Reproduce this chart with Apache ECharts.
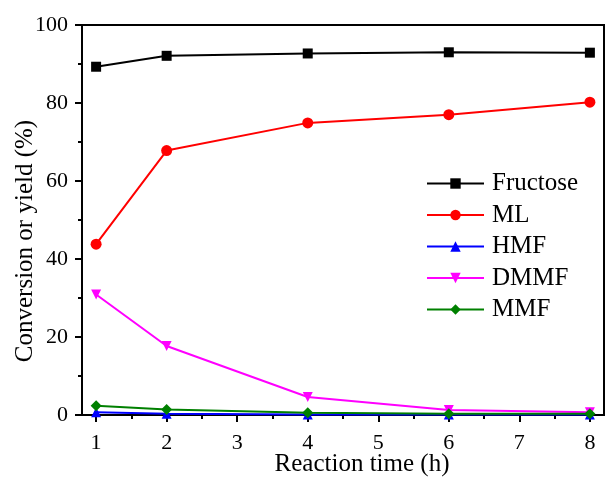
<!DOCTYPE html>
<html><head><meta charset="utf-8">
<script src="https://cdn.jsdelivr.net/npm/echarts@6/dist/echarts.min.js"></script>
<style>html,body{margin:0;padding:0;background:#fff}#c{width:606px;height:478px}</style>
</head><body><div id="c"></div>
<script>
const times = [1, 2, 4, 6, 8];
const fructose = [89.3, 92.1, 92.7, 93.0, 92.9];
const ml = [43.8, 67.8, 74.9, 77.0, 80.2];
const hmf = [0.7, 0.3, 0.1, 0.1, 0.1];
const dmmf = [30.9, 17.7, 4.6, 1.3, 0.7];
const mmf = [2.4, 1.4, 0.6, 0.3, 0.3];
const xTicks = [1, 2, 3, 4, 5, 6, 7, 8];
const xMinor = [1.5, 2.5, 3.5, 4.5, 5.5, 6.5, 7.5];

const font = 'Liberation Serif';
const pair = (ys) => times.map((t, i) => [t, ys[i]]);
const mk = (name, ys, color, symbol, size, rot) => ({
  name, type: 'line', data: pair(ys), symbol, symbolSize: size, symbolRotate: rot || 0,
  lineStyle: { color, width: 2 }, itemStyle: { color }, z: 3
});

const chart = echarts.init(document.getElementById('c'));
chart.setOption({
  animation: false,
  backgroundColor: '#fff',
  grid: { left: 82, right: 2, top: 25, bottom: 63, containLabel: false, outerBoundsMode: 'none',
    show: true, borderColor: '#000', borderWidth: 2, backgroundColor: 'transparent' },
  xAxis: [{
    type: 'value', min: 0.8, max: 8.2,
    name: 'Reaction time (h)', nameLocation: 'middle', nameGap: 37, nameMoveOverlap: false,
    nameTextStyle: { fontFamily: font, fontSize: 25, color: '#000', padding: [0, 0, 0, 38] },
    axisLine: { lineStyle: { color: '#000', width: 2 } },
    axisTick: { show: true, length: 7, customValues: xTicks, lineStyle: { color: '#000', width: 2 } },
    axisLabel: { customValues: xTicks, fontFamily: font, fontSize: 22, color: '#000', margin: 17 },
    splitLine: { show: false }
  }, {
    type: 'value', min: 0.8, max: 8.2, position: 'bottom',
    axisLine: { show: false },
    axisTick: { show: true, length: 4, customValues: xMinor, lineStyle: { color: '#000', width: 2 } },
    axisLabel: { show: false }, splitLine: { show: false }
  }],
  yAxis: {
    type: 'value', min: 0, max: 100, interval: 20,
    name: 'Conversion or yield (%)', nameLocation: 'middle', nameGap: 44, nameMoveOverlap: false,
    nameTextStyle: { fontFamily: font, fontSize: 25, color: '#000', padding: [0, 42, 0, 0] },
    axisLine: { show: true, lineStyle: { color: '#000', width: 2 } },
    axisTick: { show: true, length: 7, lineStyle: { color: '#000', width: 2 } },
    minorTick: { show: true, splitNumber: 2, length: 4, lineStyle: { color: '#000', width: 2 } },
    axisLabel: { fontFamily: font, fontSize: 22, color: '#000', margin: 14 },
    splitLine: { show: false }
  },
  legend: {
    left: 426, top: 171, padding: 0, orient: 'vertical', itemWidth: 57, itemHeight: 13, itemGap: 6.5,
    textStyle: { fontFamily: font, fontSize: 25, color: '#000', padding: [0, 0, 0, 3] },
    data: ['Fructose', 'ML', 'HMF', 'DMMF', 'MMF']
  },
  series: [
    mk('Fructose', fructose, '#000000', 'rect', 10),
    mk('ML', ml, '#ff0000', 'circle', 11),
    mk('HMF', hmf, '#0000ff', 'triangle', 10),
    mk('DMMF', dmmf, '#ff00ff', 'triangle', 10, 180),
    mk('MMF', mmf, '#008000', 'diamond', 11)
  ]
});
</script></body></html>
